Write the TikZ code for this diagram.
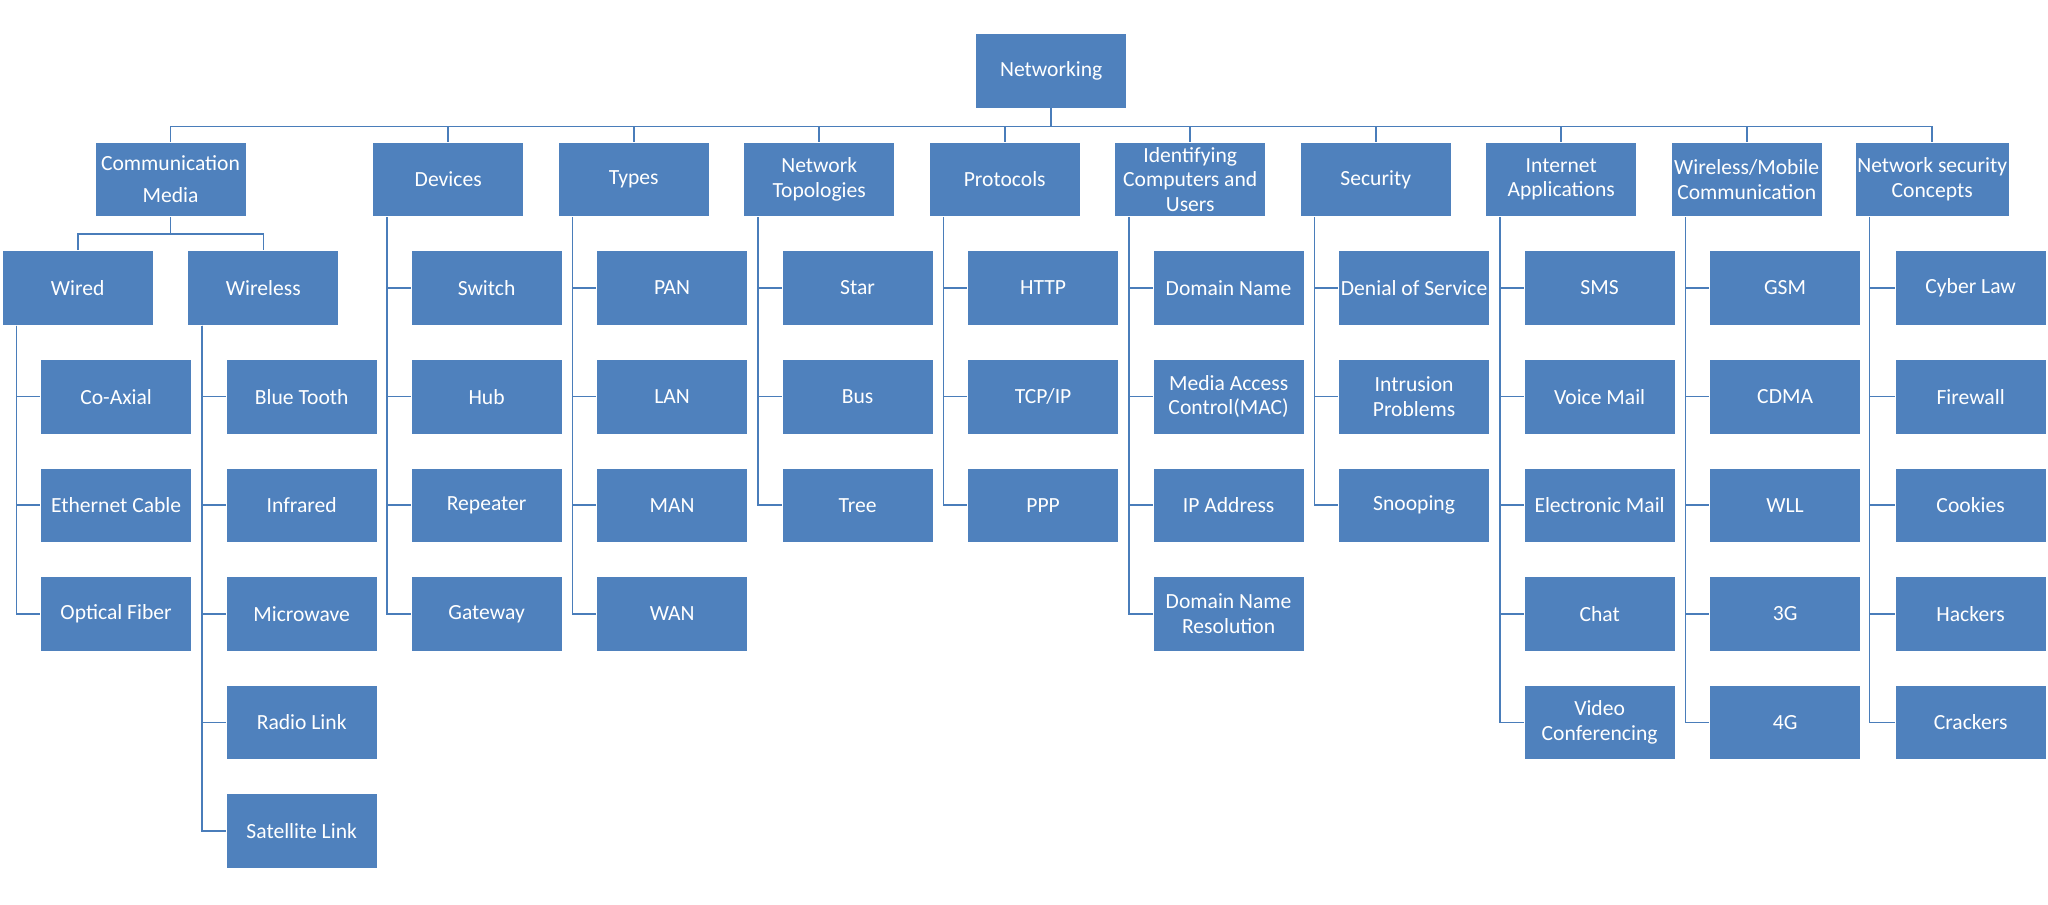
\documentclass[tikz,border=0pt]{standalone}
\usepackage{fontspec}
\setmainfont{Carlito}
\definecolor{boxblue}{HTML}{4F81BD}
\definecolor{lineblue}{HTML}{4A7DBA}
\tikzset{
  topic/.style={draw=white, line width=0.4pt, fill=boxblue, text=white, rectangle,
    minimum width=75.5pt, minimum height=37.3pt, inner sep=1pt, align=center,
    font=\fontsize{10.8}{12.2}\selectfont},
  link/.style={draw=lineblue, line width=0.8pt},
}

\begin{document}
\begin{tikzpicture}[x=0.5pt, y=-0.5pt, node distance=54.3pt]
    \fill[white] (0,0) rectangle (2048,904);
    \useasboundingbox (0,0) rectangle (2048,904);

    \node (net) [topic] at (1051.2,70.8) {Networking};

    % first level
    \node (prot) [topic, below of=net, xshift=-23.25pt] {Protocols};
    \node (topo) [topic, left of=prot, node distance=92.75pt] {Network\\Topologies};
    \node (types) [topic, left of=topo, node distance=92.75pt] {Types};
    \node (dev) [topic, left of=types, node distance=92.75pt] {Devices};
    \node (media) [topic, left of=dev, node distance=138.85pt, font=\fontsize{10.8}{16}\selectfont] {Communication\\Media};
    \node (ident) [topic, right of=prot, node distance=92.75pt] {Identifying\\Computers and\\Users};
    \node (sec) [topic, right of=ident, node distance=92.75pt] {Security};
    \node (inet) [topic, right of=sec, node distance=92.75pt] {Internet\\Applications};
    \node (wmob) [topic, right of=inet, node distance=92.75pt] {Wireless/Mobile\\Communication};
    \node (nsc) [topic, right of=wmob, node distance=92.75pt] {Network security\\Concepts};

    \node (wired) [topic, below of=media, xshift=-46.4pt] {Wired};
    \node (wless) [topic, below of=media, xshift=46.4pt] {Wireless};

    % media
    \node (coax) [topic, below of=wired, xshift=19.2pt] {Co-Axial};
    \node (ether) [topic, below of=coax] {Ethernet Cable};
    \node (fiber) [topic, below of=ether] {Optical Fiber};
    \node (btooth) [topic, below of=wless, xshift=19.2pt] {Blue Tooth};
    \node (infra) [topic, below of=btooth] {Infrared};
    \node (micro) [topic, below of=infra] {Microwave};
    \node (radio) [topic, below of=micro] {Radio Link};
    \node (sat) [topic, below of=radio] {Satellite Link};

    % devices
    \node (sw) [topic, below of=dev, xshift=19.2pt] {Switch};
    \node (hub) [topic, below of=sw] {Hub};
    \node (rep) [topic, below of=hub] {Repeater};
    \node (gate) [topic, below of=rep] {Gateway};

    % types
    \node (pan) [topic, below of=types, xshift=19.2pt] {PAN};
    \node (lan) [topic, below of=pan] {LAN};
    \node (man) [topic, below of=lan] {MAN};
    \node (wan) [topic, below of=man] {WAN};

    % topologies
    \node (star) [topic, below of=topo, xshift=19.2pt] {Star};
    \node (bus) [topic, below of=star] {Bus};
    \node (tree) [topic, below of=bus] {Tree};

    % protocols
    \node (http) [topic, below of=prot, xshift=19.2pt] {HTTP};
    \node (tcp) [topic, below of=http] {TCP/IP};
    \node (ppp) [topic, below of=tcp] {PPP};

    % identifying
    \node (dname) [topic, below of=ident, xshift=19.2pt] {Domain Name};
    \node (mac) [topic, below of=dname] {Media Access\\Control(MAC)};
    \node (ip) [topic, below of=mac] {IP Address};
    \node (dns) [topic, below of=ip] {Domain Name\\Resolution};

    % security
    \node (dos) [topic, below of=sec, xshift=19.2pt] {Denial of Service};
    \node (intr) [topic, below of=dos] {Intrusion\\Problems};
    \node (snoop) [topic, below of=intr] {Snooping};

    % internet
    \node (sms) [topic, below of=inet, xshift=19.2pt] {SMS};
    \node (vmail) [topic, below of=sms] {Voice Mail};
    \node (email) [topic, below of=vmail] {Electronic Mail};
    \node (chat) [topic, below of=email] {Chat};
    \node (video) [topic, below of=chat] {Video\\Conferencing};

    % wireless/mobile
    \node (gsm) [topic, below of=wmob, xshift=19.2pt] {GSM};
    \node (cdma) [topic, below of=gsm] {CDMA};
    \node (wll) [topic, below of=cdma] {WLL};
    \node (g3) [topic, below of=wll] {3G};
    \node (g4) [topic, below of=g3] {4G};

    % security concepts
    \node (law) [topic, below of=nsc, xshift=19.2pt] {Cyber Law};
    \node (fwall) [topic, below of=law] {Firewall};
    \node (cook) [topic, below of=fwall] {Cookies};
    \node (hack) [topic, below of=cook] {Hackers};
    \node (crack) [topic, below of=hack] {Crackers};

    % connectors
    \draw[link] (net.south) -- ++(0,-8.9pt) -| (media.north);
    \draw[link] (net.south) -- ++(0,-8.9pt) -| (dev.north);
    \draw[link] (net.south) -- ++(0,-8.9pt) -| (types.north);
    \draw[link] (net.south) -- ++(0,-8.9pt) -| (topo.north);
    \draw[link] (net.south) -- ++(0,-8.9pt) -| (prot.north);
    \draw[link] (net.south) -- ++(0,-8.9pt) -| (ident.north);
    \draw[link] (net.south) -- ++(0,-8.9pt) -| (sec.north);
    \draw[link] (net.south) -- ++(0,-8.9pt) -| (inet.north);
    \draw[link] (net.south) -- ++(0,-8.9pt) -| (wmob.north);
    \draw[link] (net.south) -- ++(0,-8.9pt) -| (nsc.north);

    \draw[link] (media.south) -- ++(0,-8.5pt) -| (wired.north);
    \draw[link] (media.south) -- ++(0,-8.5pt) -| (wless.north);

    \draw[link] ([xshift=7.25pt]wired.south west) |- (coax.west);
    \draw[link] ([xshift=7.25pt]wired.south west) |- (ether.west);
    \draw[link] ([xshift=7.25pt]wired.south west) |- (fiber.west);
    \draw[link] ([xshift=7.25pt]wless.south west) |- (btooth.west);
    \draw[link] ([xshift=7.25pt]wless.south west) |- (infra.west);
    \draw[link] ([xshift=7.25pt]wless.south west) |- (micro.west);
    \draw[link] ([xshift=7.25pt]wless.south west) |- (radio.west);
    \draw[link] ([xshift=7.25pt]wless.south west) |- (sat.west);

    \draw[link] ([xshift=7.25pt]dev.south west) |- (sw.west);
    \draw[link] ([xshift=7.25pt]dev.south west) |- (hub.west);
    \draw[link] ([xshift=7.25pt]dev.south west) |- (rep.west);
    \draw[link] ([xshift=7.25pt]dev.south west) |- (gate.west);

    \draw[link] ([xshift=7.25pt]types.south west) |- (pan.west);
    \draw[link] ([xshift=7.25pt]types.south west) |- (lan.west);
    \draw[link] ([xshift=7.25pt]types.south west) |- (man.west);
    \draw[link] ([xshift=7.25pt]types.south west) |- (wan.west);

    \draw[link] ([xshift=7.25pt]topo.south west) |- (star.west);
    \draw[link] ([xshift=7.25pt]topo.south west) |- (bus.west);
    \draw[link] ([xshift=7.25pt]topo.south west) |- (tree.west);

    \draw[link] ([xshift=7.25pt]prot.south west) |- (http.west);
    \draw[link] ([xshift=7.25pt]prot.south west) |- (tcp.west);
    \draw[link] ([xshift=7.25pt]prot.south west) |- (ppp.west);

    \draw[link] ([xshift=7.25pt]ident.south west) |- (dname.west);
    \draw[link] ([xshift=7.25pt]ident.south west) |- (mac.west);
    \draw[link] ([xshift=7.25pt]ident.south west) |- (ip.west);
    \draw[link] ([xshift=7.25pt]ident.south west) |- (dns.west);

    \draw[link] ([xshift=7.25pt]sec.south west) |- (dos.west);
    \draw[link] ([xshift=7.25pt]sec.south west) |- (intr.west);
    \draw[link] ([xshift=7.25pt]sec.south west) |- (snoop.west);

    \draw[link] ([xshift=7.25pt]inet.south west) |- (sms.west);
    \draw[link] ([xshift=7.25pt]inet.south west) |- (vmail.west);
    \draw[link] ([xshift=7.25pt]inet.south west) |- (email.west);
    \draw[link] ([xshift=7.25pt]inet.south west) |- (chat.west);
    \draw[link] ([xshift=7.25pt]inet.south west) |- (video.west);

    \draw[link] ([xshift=7.25pt]wmob.south west) |- (gsm.west);
    \draw[link] ([xshift=7.25pt]wmob.south west) |- (cdma.west);
    \draw[link] ([xshift=7.25pt]wmob.south west) |- (wll.west);
    \draw[link] ([xshift=7.25pt]wmob.south west) |- (g3.west);
    \draw[link] ([xshift=7.25pt]wmob.south west) |- (g4.west);

    \draw[link] ([xshift=7.25pt]nsc.south west) |- (law.west);
    \draw[link] ([xshift=7.25pt]nsc.south west) |- (fwall.west);
    \draw[link] ([xshift=7.25pt]nsc.south west) |- (cook.west);
    \draw[link] ([xshift=7.25pt]nsc.south west) |- (hack.west);
    \draw[link] ([xshift=7.25pt]nsc.south west) |- (crack.west);
\end{tikzpicture}
\end{document}
